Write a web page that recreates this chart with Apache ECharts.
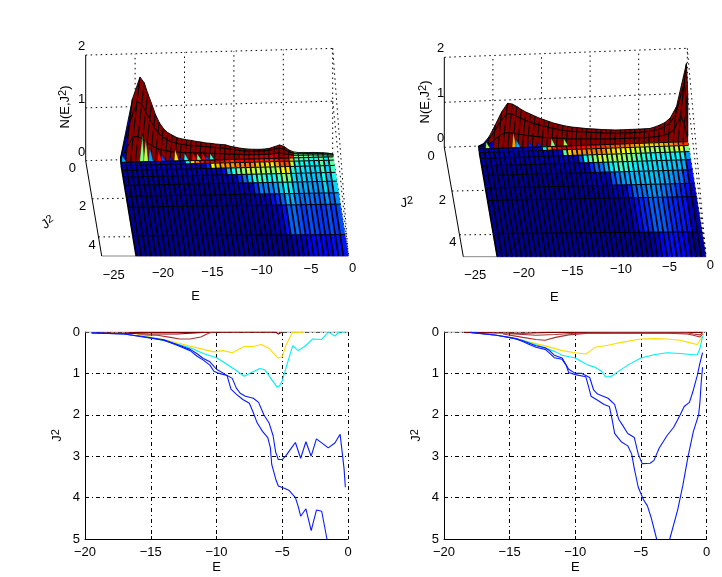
<!DOCTYPE html>
<html><head><meta charset="utf-8">
<style>html,body{margin:0;padding:0;background:#fff}#c{width:722px;height:577px}</style>
<script src="https://cdn.jsdelivr.net/npm/echarts@6/dist/echarts.min.js"></script>
</head><body><div id="c"></div>
<script>
// ---------- surface grid ----------
const energyStart = -21.5, energyStep = 0.5;
const surfaceJ = [0, .02, .06, .14, .3, .56, .9, 1.33, 1.9, 2.46, 3.95, 5];

// heights of the first rows (J=0, .02, .06), left surface
const leftH0 = [.03,1.15,1.56,1.45,1.24,1.05,.85,.69,.57,.49,.44,.39,.365,.345,.33,.31,.295,.275,.265,.25,.24,.23,.2,.18,.16,.145,.135,.13,.127,.13,.14,.17,.2,.165,.1,.06,.045,.045,.04,.04,.035,.03,.02,0];
const leftH1 = [.02,.7,1.1,1.05,.9,.76,.62,.5,.42,.36,.32,.29,.27,.25,.24,.23,.22,.21,.2,.19,.18,.17,.15,.14,.12,.11,.1,.1,.1,.1,.11,.13,.15,.12,.07,.04,.03,.03,.03,.03,.025,.02,.015,0];
const leftH2 = [0,.25,.45,.45,.4,.33,.27,.22,.19,.17,.15,.14,.13,.12,.12,.11,.11,.1,.1,.09,.09,.08,.07,.07,.06,.05,.05,.05,.05,.05,.05,.06,.07,.05,.03,.02,.015,.015,.015,.015,.01,.01,.005,0];
// right surface
const rightH0 = [0,.05,.2,.46,.745,.93,.91,.85,.78,.72,.67,.62,.57,.53,.49,.45,.42,.39,.365,.345,.33,.315,.3,.29,.28,.268,.26,.252,.245,.244,.244,.245,.245,.246,.248,.25,.28,.32,.37,.47,.72,1.67,1.0,.1];
const rightH1 = [0,.03,.14,.33,.55,.7,.7,.65,.6,.55,.5,.46,.43,.4,.37,.34,.31,.29,.27,.26,.25,.24,.23,.22,.21,.2,.19,.19,.18,.18,.18,.18,.18,.18,.19,.19,.21,.24,.28,.36,.55,1.25,.75,.05];
const rightH2 = [0,.01,.06,.14,.24,.3,.3,.28,.26,.24,.22,.2,.19,.17,.16,.15,.14,.13,.12,.11,.11,.1,.1,.1,.09,.09,.08,.08,.08,.08,.08,.08,.08,.08,.08,.08,.09,.1,.12,.15,.24,.55,.33,.02];

// coloured slivers at the foot of the ridge: [E, height, colour level]
const leftSpikes = [[-21.4,.1,.3],[-19.6,.5,.5],[-19.2,.42,.56],[-18.7,.25,.29],[-17.8,.2,.87],[-17.4,.1,.2],[-16.6,.06,.15],[-16.1,.2,.65],[-15.6,.05,.15],[-15.1,.12,.38],[-14.3,.14,.88],[-13.8,.1,.48],[-13.3,.13,.88],[-12.9,.05,.2],[-12.5,.1,.42]];
const rightSpikes = [[-20.8,.12,.54],[-18.1,.32,.72],[-17.7,.15,.3],[-16.4,.1,.16],[-15.5,.08,.16],[-14.1,.15,.5],[-12.8,.13,.53]];

// ---------- contours, left ----------
const leftBlueLow = [[-19.5,.02],[-17,.05],[-15,.15],[-14,.2],[-13,.32],[-12,.45],[-11.5,.58],[-11,.68],[-10.5,.8],[-10.2,.95],[-9.8,1],[-9.2,1.05],[-8.9,1.38],[-8.5,1.5],[-8,1.63],[-7.5,1.72],[-7.2,1.95],[-6.9,2.2],[-6.5,2.4],[-6.1,2.55],[-5.9,2.8],[-5.8,3.2],[-5.5,3.55],[-5.3,3.72],[-4.8,3.78],[-4.5,3.82],[-4,4],[-3.8,4.2],[-3.6,4.45],[-3.2,4.27],[-2.8,4.8],[-2.4,4.3],[-2,4.33],[-1.6,5],[-1,5.8],[-.2,7]];
const leftBlueHigh = [[-19.5,.02],[-17,.05],[-15,.14],[-14,.19],[-13,.3],[-12,.42],[-11.5,.52],[-11,.64],[-10.5,.72],[-10,.9],[-9.3,1.03],[-8.8,1.12],[-8.5,1.35],[-8.2,1.48],[-7.8,1.55],[-7.2,1.6],[-6.8,1.7],[-6.4,2],[-6,2.2],[-5.7,2.5],[-5.5,2.9],[-5.3,3.08],[-5,3.08],[-4.7,2.98],[-4.3,2.8],[-4,2.67],[-3.6,3.05],[-3.2,2.65],[-2.8,3],[-2.4,2.58],[-1.5,2.8],[-1,2.68],[-.6,2.47],[-.3,3.3],[-.2,3.75]];
const leftCyan = [[-16,.08],[-14.5,.17],[-13.5,.25],[-12,.38],[-11,.52],[-10,.62],[-9.5,.72],[-8.5,.93],[-7.9,1.07],[-7.5,1],[-6.7,.88],[-6.3,.92],[-5.8,1.15],[-5.4,1.33],[-5.2,1.3],[-5,1.18],[-4.7,.85],[-4.2,.33],[-3.8,.45],[-3.3,.35],[-2.7,.17],[-2,.18],[-1.5,0],[-1,.1],[-.7,0],[-.2,0]];
const leftYellow = [[-16,.07],[-14,.18],[-12.5,.3],[-11,.42],[-10.2,.48],[-9.5,.45],[-8.8,.5],[-7.9,.35],[-7.2,.35],[-6.6,.3],[-6,.4],[-5.3,.63],[-5,.6],[-4.7,.3],[-4.2,0],[-3.8,.02],[-3.4,0]];
const leftBrown = [[-16,.07],[-14.5,.08],[-13.5,.13],[-12.8,.17],[-12,.17],[-11.2,.12],[-10.6,.03],[-10.2,0]];
const leftBrownB = [[-17,.03],[-15,.05],[-13,.05],[-12,.03],[-11,.01]];
const leftDark = [[-19,.02],[-17.2,.03],[-16,.01],[-14,.01],[-12,.01],[-5.5,0],[-5.3,.05],[-5,0]];

// ---------- contours, right ----------
const rightBlueLow = [[-18,.01],[-16,.08],[-15,.14],[-14.5,.17],[-14,.23],[-13.5,.3],[-13,.37],[-12.3,.42],[-12,.5],[-11.6,.62],[-11,.66],[-10.7,.8],[-10.5,.98],[-10,1.03],[-9.2,1.08],[-9,1.3],[-8.8,1.55],[-8.3,1.65],[-7.8,1.75],[-7.4,1.8],[-7.2,2.1],[-7,2.45],[-6.5,2.65],[-6,2.75],[-5.7,2.95],[-5.5,3.3],[-5.2,3.75],[-4.8,4.05],[-4.5,4.2],[-4.2,4.5],[-3.8,5],[-3.3,5.6],[-2.8,5],[-2.2,4.3],[-1.8,3.7],[-1.4,3],[-1,2.4],[-.6,2],[-.5,1.7],[-.4,1.2],[-.3,.85]];
const rightBlueHigh = [[-18,.01],[-16,.08],[-15,.13],[-14.5,.16],[-14,.21],[-13.5,.27],[-13,.33],[-12.3,.38],[-12,.44],[-11.6,.56],[-11,.63],[-10.5,.9],[-10,1],[-9.5,1],[-9.2,1.05],[-8.9,1.1],[-8.6,1.4],[-8.3,1.5],[-7.5,1.6],[-7,1.75],[-6.7,2.1],[-6.4,2.25],[-6,2.45],[-5.5,2.55],[-5.2,2.95],[-4.9,3.18],[-4.3,3.17],[-4,3.1],[-3.6,2.8],[-3,2.5],[-2.5,2.3],[-2,2],[-1.7,1.8],[-1.3,1.7],[-1,1.4],[-.7,1.05],[-.5,.75],[-.3,.5]];
const rightCyan = [[-15,.14],[-14,.2],[-13,.31],[-12,.42],[-11.5,.48],[-11,.56],[-10,.63],[-9.5,.72],[-9,.8],[-8.5,.85],[-8,.95],[-7.7,1.08],[-7.3,1.08],[-6.8,.97],[-6,.8],[-5,.63],[-4,.55],[-3,.5],[-2,.52],[-1,.55],[-.7,.55],[-.5,.4],[-.3,.1]];
const rightYellow = [[-15,.13],[-13,.28],[-12,.36],[-11,.45],[-10,.5],[-9.2,.53],[-8.8,.45],[-8.5,.37],[-7.5,.32],[-6.5,.25],[-5,.17],[-4,.16],[-3,.17],[-2,.2],[-1,.28],[-.7,.3],[-.4,.15],[-.2,.05]];
const rightBrown = [[-15.5,.05],[-14,.13],[-13,.18],[-12.3,.2],[-11.5,.13],[-10.5,.07],[-9,.03],[-7,.02],[-3,.03],[-1.5,.05],[-1,.08],[-.5,.12],[-.3,.05]];
const rightBrownB = [[-15,.04],[-13,.08],[-11.5,.06],[-10,.03],[-1.5,.02],[-1,.05],[-.5,.07],[-.3,.02]];
const rightDark = [[-18.5,.01],[-16,.02],[-14,.03],[-12,.01],[-9,.01],[-7,.01],[-3,.01],[-.3,.01]];

// ---------- ticks ----------
const eTicks3d = [-25,-20,-15,-10,-5,0];
const jTicks3d = [0,2,4];
const zTicks3d = [0,1,2];
const eGrid3d = [-20,-15,-10,-5,0];

// ---------- layout of the two 3-D boxes ----------
const FAMILY = 'Liberation Sans';
const FONT = '13px "Liberation Sans"';
const SUP_RICH = {a:{fontFamily:FAMILY,fontSize:13,lineHeight:15,fill:'#000',color:'#000'},
                  s:{fontFamily:FAMILY,fontSize:11,lineHeight:15,verticalAlign:'top',fill:'#000',color:'#000'}};
const leftBox = {BL:[85.7,160.7],BR:[332.7,154],FL:[101.7,256],FR:[348.3,256],zs:52.8,lean:6.3,
  eLab:[275,268], zLabDx:-4, jLab:[-13.4,-9.4,-6.4], jLabDy:[7.3,8,8.6], titles:{E:[195.7,296.7],J:[48.3,222.7],N:[65,107]}, jRot:.6,
  H:[leftH0,leftH1,leftH2], spikes:leftSpikes,
  c:{brown:leftBrown,yellow:leftYellow,cyan:leftCyan,high:leftBlueHigh,low:leftBlueLow}};
const rightBox = {BL:[444.3,147.3],BR:[687.3,138.3],FL:[463.3,256.7],FR:[706,256.7],zs:45,lean:5.3,
  eLab:[275,265], zLabDx:-3.7, jLab:[-13.3,-9.5,-6.6], jLabDy:[9.5,9,8], titles:{E:[554.3,297],J:[407,203],N:[425,102]}, jRot:.1,
  H:[rightH0,rightH1,rightH2], spikes:rightSpikes,
  c:{brown:rightBrown,yellow:rightYellow,cyan:rightCyan,high:rightBlueHigh,low:rightBlueLow}};

function proj(P,E,J,z,lean){
  const s=(E+25)/25,t=J/5;
  const f=i=>P.BL[i]*(1-s)*(1-t)+P.BR[i]*s*(1-t)+P.FL[i]*(1-s)*t+P.FR[i]*s*t;
  return [f(0)+(lean?z*P.lean:0), f(1)-z*P.zs];
}
function interp(arr,E){
  if(E<=arr[0][0])return E<arr[0][0]?0:arr[0][1];
  for(let i=1;i<arr.length;i++) if(E<=arr[i][0]){
    const a=arr[i-1],b=arr[i];return a[1]+(b[1]-a[1])*(E-a[0])/(b[0]-a[0]);
  }
  return arr[arr.length-1][1];
}
function level(P,E,J,h0){
  const top=h0>.06?.99:.5;
  const pts=[[0,top]];
  [[P.c.brown,.9],[P.c.yellow,.625],[P.c.cyan,.375],[P.c.high,.16],[P.c.low,.115]].forEach(([a,l])=>{
    const j=interp(a,E);
    if(l<pts[pts.length-1][1] && j>pts[pts.length-1][0]) pts.push([j,l]);
  });
  for(let i=1;i<pts.length;i++) if(J<=pts[i][0]){
    const a=pts[i-1],b=pts[i];return a[1]+(b[1]-a[1])*(J-a[0])/(b[0]-a[0]);
  }
  const last=pts[pts.length-1];
  return Math.max(.02,Math.min(last[1],.07)-(J-last[0])*.05);
}
function jet(v){
  const c=x=>Math.round(255*Math.max(0,Math.min(1,1.5-Math.abs(4*v-x))));
  return `rgb(${c(3)},${c(2)},${c(1)})`;
}

// ---------- drawing list for the 3-D boxes ----------
const items=[];
const DOT=[1.5,3.5];
function seg(a,b,stroke,dash,lw){items.push({t:'line',a,b,stroke,dash,lw:lw||1});}
function label(x,y,text,rot){items.push({t:'text',x,y,text,rot:rot||0});}
function buildBox(P){
  const lo=-25,hi=0;
  // walls
  zTicks3d.forEach(z=>{
    seg(proj(P,lo,0,z),proj(P,hi,0,z),'#000',DOT);
    seg(proj(P,hi,0,z),proj(P,hi,5,0),'#000',DOT);
  });
  eGrid3d.forEach(e=>{
    seg(proj(P,e,0,0),proj(P,e,0,2),'#000',DOT);
    seg(proj(P,e,0,0),proj(P,e,5,0),'#000',DOT);
  });
  jTicks3d.slice(1).forEach(j=>{
    seg(proj(P,lo,j,0),proj(P,hi,j,0),'#000',DOT);
  });
  seg(proj(P,lo,5,0),proj(P,hi,5,0),'#888');
  seg(proj(P,lo,0,0),proj(P,lo,0,2),'#000');
  seg(proj(P,lo,0,0),proj(P,lo,5,0),'#000');
  // surface, back to front
  const nE=P.H[0].length;
  const height=(k,r)=>r<3?P.H[r][k]:0;
  for(let r=0;r<surfaceJ.length-1;r++){
    for(let k=0;k<nE-1;k++){
      const e0=energyStart+k*energyStep,e1=e0+energyStep,j0=surfaceJ[r],j1=surfaceJ[r+1];
      const h=height(k,r);
      let v=level(P,e0,j0,P.H[0][k]);
      if(r<3&&h>.06)v=.99;
      const pts=[proj(P,e0,j0,h,1),proj(P,e1,j0,height(k+1,r),1),proj(P,e1,j1,height(k+1,r+1),1),proj(P,e0,j1,height(k,r+1),1)];
      if(r<3){
        items.push({t:'poly',fill:jet(v),pts,lw:.9,edge:'#000'});
      }else{
        const f=jet(v);
        items.push({t:'poly',fill:f,pts,lw:.5,edge:f});
        seg(pts[0],pts[3],'#000',null,r>3?1.7:1.2);
        seg(pts[0],pts[1],'#000',null,1);
      }
    }
    if(r===2) P.spikes.forEach(([e,z,v])=>{
      items.push({t:'poly',fill:jet(v),lw:.4,edge:'#000',pts:[proj(P,e,.06,z,1),proj(P,e+.5,.14,0,1),proj(P,e,.14,0,1)]});
    });
  }
  // tick labels and titles
  zTicks3d.forEach(z=>{const p=proj(P,lo,0,z);label(p[0]+P.zLabDx,p[1]-8.5,String(z));});
  jTicks3d.forEach((j,i)=>{const p=proj(P,lo,j,0);label(p[0]+P.jLab[i],p[1]+P.jLabDy[i],String(j));});
  eTicks3d.forEach(e=>{
    const p=proj(P,e,5,0),s=(e+25)/25;
    label(p[0]+(e===0?4.4:12),P.eLab[0]+(P.eLab[1]-P.eLab[0])*s,String(e).replace('-','\u2212'));
  });
  label(P.titles.E[0],P.titles.E[1],'E');
  label(P.titles.J[0],P.titles.J[1],'{a|J}{s|2}',P.jRot);
  label(P.titles.N[0],P.titles.N[1],'{a|N(E,J}{s|2}{a|)}',Math.PI/2);
}
buildBox(leftBox);
buildBox(rightBox);

function renderBox(params,api){
  const it=items[params.dataIndex];
  if(it.t==='poly'){
    return {type:'polygon',shape:{points:it.pts.map(p=>api.coord(p))},
      style:{fill:it.fill,stroke:it.edge,lineWidth:it.lw}};
  }
  if(it.t==='line'){
    const a=api.coord(it.a),b=api.coord(it.b);
    return {type:'line',shape:{x1:a[0],y1:a[1],x2:b[0],y2:b[1]},
      style:{stroke:it.stroke,lineDash:it.dash||null,lineWidth:it.lw,fill:null}};
  }
  const c=api.coord([it.x,it.y]);
  const rich=it.text.charAt(0)==='{';
  const style={text:it.text,fill:'#000',align:'center',verticalAlign:'middle',textAlign:'center',textVerticalAlign:'middle'};
  if(rich)style.rich=SUP_RICH; else style.font=FONT;
  return {type:'text',x:c[0],y:c[1],rotation:it.rot,style};
}

// ---------- 2-D panels ----------
function lineSeries(idx,data,color){
  return {type:'line',xAxisIndex:idx,yAxisIndex:idx,data,symbol:'none',silent:true,animation:false,
    lineStyle:{color,width:1.1},clip:true,z:3};
}
function axisX(idx){
  return {gridIndex:idx,type:'value',min:-20,max:0,interval:5,name:'E',nameLocation:'middle',nameGap:22,
    nameTextStyle:{color:'#000',fontFamily:FAMILY,fontSize:13},
    axisLine:{show:true,onZero:false,lineStyle:{color:'#000'}},
    axisTick:{show:true,inside:true,length:3,lineStyle:{color:'#000'}},
    axisLabel:{color:'#000',fontFamily:FAMILY,fontSize:13,margin:7,
      formatter:v=>String(v).replace('-','\u2212')},
    splitLine:{show:true,lineStyle:{color:'#000',type:[4,3,1,3],width:1}}};
}
function axisY(idx){
  return {gridIndex:idx,type:'value',min:0,max:5,interval:1,inverse:true,name:'{a|J}{s|2}',nameLocation:'middle',nameGap:20,
    nameTextStyle:{rich:SUP_RICH},
    axisLine:{show:true,onZero:false,lineStyle:{color:'#000'}},
    axisTick:{show:true,inside:true,length:3,lineStyle:{color:'#000'}},
    axisLabel:{color:'#000',fontFamily:FAMILY,fontSize:13,margin:5},
    splitLine:{show:true,lineStyle:{color:'#000',type:[4,3,1,3],width:1}}};
}
const topEdge=[[-20,0],[0,0]];
const BLUE='#0a1aff',CYAN='#00f0f0',YEL='#ffdc00',BROWN='#a83232',DARK='#800000',GREY='#999999';

const chart=echarts.init(document.getElementById('c'),null,{renderer:'canvas'});
chart.setOption({
  animation:false,backgroundColor:'#fff',
  grid:[
    {left:0,top:0,width:722,height:577},
    {left:85,top:332,width:263,height:207},
    {left:444,top:332,width:262.5,height:207}
  ],
  xAxis:[{gridIndex:0,type:'value',min:0,max:722,show:false},axisX(1),axisX(2)],
  yAxis:[{gridIndex:0,type:'value',min:0,max:577,inverse:true,show:false},axisY(1),axisY(2)],
  series:[
    {type:'custom',xAxisIndex:0,yAxisIndex:0,renderItem:renderBox,data:items.map(()=>[0,0]),silent:true,animation:false,clip:false,z:2},
    lineSeries(1,topEdge,GREY),lineSeries(1,leftDark,DARK),lineSeries(1,leftBrownB,DARK),lineSeries(1,leftBrown,BROWN),
    lineSeries(1,leftYellow,YEL),lineSeries(1,leftCyan,CYAN),lineSeries(1,leftBlueHigh,BLUE),lineSeries(1,leftBlueLow,BLUE),
    lineSeries(2,topEdge,GREY),lineSeries(2,rightDark,DARK),lineSeries(2,rightBrownB,BROWN),lineSeries(2,rightBrown,BROWN),
    lineSeries(2,rightYellow,YEL),lineSeries(2,rightCyan,CYAN),lineSeries(2,rightBlueHigh,BLUE),lineSeries(2,rightBlueLow,BLUE)
  ]
});
</script></body></html>
